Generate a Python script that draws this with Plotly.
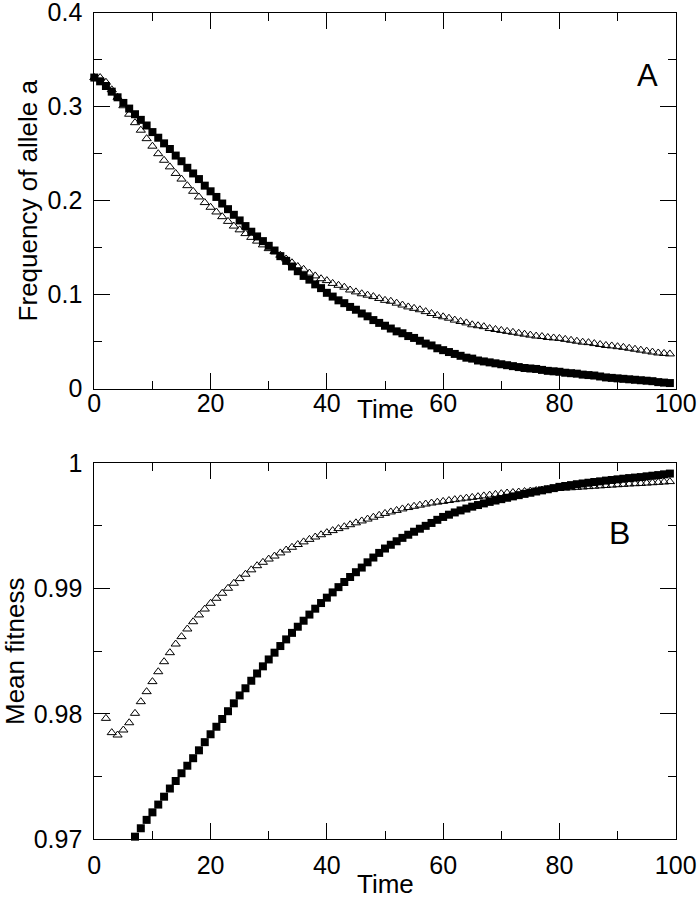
import plotly.graph_objects as go

# ---------------- data ----------------
time_a = list(range(0, 100))
freq_squares = [
    0.331, 0.327, 0.322, 0.316, 0.310, 0.304, 0.298, 0.292, 0.286, 0.280,
    0.273, 0.267, 0.261, 0.255, 0.248, 0.242, 0.235, 0.229, 0.223, 0.216,
    0.210, 0.204, 0.197, 0.191, 0.185, 0.179, 0.173, 0.167, 0.162, 0.157,
    0.152, 0.147, 0.141, 0.136, 0.130, 0.125, 0.120, 0.116, 0.111, 0.107,
    0.102, 0.098, 0.094, 0.091, 0.087, 0.084, 0.080, 0.077, 0.073, 0.070,
    0.067, 0.064, 0.061, 0.059, 0.056, 0.054, 0.051, 0.048, 0.046, 0.043,
    0.041, 0.039, 0.037, 0.035, 0.033, 0.032, 0.030, 0.029, 0.028, 0.027,
    0.026, 0.025, 0.024, 0.023, 0.022, 0.0215, 0.021, 0.020, 0.019, 0.0185,
    0.018, 0.017, 0.0165, 0.016, 0.015, 0.0145, 0.014, 0.013, 0.012, 0.0115,
    0.011, 0.0105, 0.010, 0.0095, 0.009, 0.0085, 0.008, 0.007, 0.0065, 0.006,
]
freq_triangles = [
    0.331, 0.331, 0.326, 0.318, 0.310, 0.301, 0.292, 0.283, 0.275, 0.266,
    0.258, 0.250, 0.243, 0.236, 0.229, 0.223, 0.216, 0.210, 0.204, 0.198,
    0.193, 0.188, 0.183, 0.178, 0.173, 0.169, 0.165, 0.161, 0.157, 0.153,
    0.149, 0.146, 0.142, 0.138, 0.134, 0.130, 0.127, 0.123, 0.120, 0.117,
    0.115, 0.112, 0.110, 0.108, 0.105, 0.103, 0.101, 0.0995, 0.098, 0.096,
    0.094, 0.093, 0.091, 0.089, 0.087, 0.0855, 0.084, 0.082, 0.080, 0.078,
    0.0765, 0.075, 0.073, 0.0715, 0.070, 0.068, 0.067, 0.066, 0.064, 0.063,
    0.062, 0.061, 0.060, 0.059, 0.058, 0.057, 0.056, 0.0555, 0.0545, 0.054,
    0.0535, 0.0525, 0.0515, 0.0505, 0.0495, 0.049, 0.048, 0.047, 0.046, 0.0455,
    0.0447, 0.044, 0.043, 0.042, 0.041, 0.040, 0.039, 0.038, 0.0375, 0.037,
]

time_b_squares = list(range(7, 100))
fitness_squares = [
    0.97021, 0.97088, 0.97155,
    0.97215, 0.97277, 0.97340, 0.97405, 0.97465, 0.97527, 0.97587, 0.97647, 0.97710, 0.97775,
    0.97838, 0.97898, 0.97960, 0.98022, 0.98085, 0.98148, 0.98205, 0.98265, 0.98323, 0.98380,
    0.98435, 0.98489, 0.98542, 0.98595, 0.98647, 0.98696, 0.98744, 0.98793, 0.98840, 0.98885,
    0.98928, 0.98970, 0.99012, 0.99053, 0.99093, 0.99131, 0.99168, 0.99210, 0.99248, 0.99285,
    0.99320, 0.99350, 0.99378, 0.99405, 0.99430, 0.99454, 0.99478, 0.99501, 0.99524, 0.99549,
    0.99572, 0.99590, 0.99608, 0.99624, 0.99639, 0.99654, 0.99667, 0.99680, 0.99692, 0.99703,
    0.99714, 0.99725, 0.99736, 0.99746, 0.99756, 0.99765, 0.99775, 0.99784, 0.99793, 0.99802,
    0.99812, 0.99819, 0.99826, 0.99833, 0.99839, 0.99845, 0.99851, 0.99856, 0.99862, 0.99867,
    0.99872, 0.99877, 0.99882, 0.99886, 0.99890, 0.99896, 0.99901, 0.99906, 0.99912, 0.99918,
]
time_b_triangles = list(range(2, 100))
fitness_triangles = [
    0.97965, 0.97851, 0.97832, 0.97872, 0.97930, 0.98005, 0.98098, 0.98178,
    0.98258, 0.98337, 0.98417, 0.98489, 0.98558, 0.98617, 0.98678, 0.98736, 0.98790, 0.98837,
    0.98883, 0.98923, 0.98963, 0.99003, 0.99043, 0.99080, 0.99115, 0.99150, 0.99183, 0.99210,
    0.99236, 0.99260, 0.99285, 0.99308, 0.99330, 0.99352, 0.99373, 0.99393, 0.99412, 0.99430,
    0.99447, 0.99463, 0.99479, 0.99494, 0.99510, 0.99525, 0.99540, 0.99555, 0.99570, 0.99585,
    0.99600, 0.99612, 0.99624, 0.99636, 0.99647, 0.99657, 0.99666, 0.99675, 0.99683, 0.99690,
    0.99696, 0.99703, 0.99710, 0.99716, 0.99722, 0.99728, 0.99734, 0.99740, 0.99746, 0.99752,
    0.99758, 0.99763, 0.99767, 0.99771, 0.99775, 0.99779, 0.99783, 0.99787, 0.99791, 0.99795,
    0.99799, 0.99802, 0.99805, 0.99808, 0.99811, 0.99814, 0.99817, 0.99820, 0.99823, 0.99826,
    0.99829, 0.99832, 0.99835, 0.99837, 0.99839, 0.99842, 0.99845, 0.99848, 0.99851, 0.99854,
]

x_ticks = [0, 20, 40, 60, 80, 100]
x_labels = ["0", "20", "40", "60", "80", "100"]
ya_ticks = [0, 0.1, 0.2, 0.3, 0.4]
ya_labels = ["0", "0.1", "0.2", "0.3", "0.4"]
yb_ticks = [0.97, 0.98, 0.99, 1.0]
yb_labels = ["0.97", "0.98", "0.99", "1"]

# ---------------- figure ----------------
FONT = "Liberation Sans, Arial, Helvetica, sans-serif"
TICK_SIZE = 25
TITLE_SIZE = 26
fig = go.Figure()

sq = dict(symbol="square", size=8, color="black", line=dict(width=0))
tri = dict(symbol="triangle-up-open", size=8, color="black", line=dict(width=1, color="black"))

fig.add_trace(go.Scatter(x=time_a, y=freq_squares, mode="markers", marker=sq,
                         xaxis="x", yaxis="y", cliponaxis=False, showlegend=False))
fig.add_trace(go.Scatter(x=time_a, y=freq_triangles, mode="markers", marker=tri,
                         xaxis="x", yaxis="y", cliponaxis=False, showlegend=False))
fig.add_trace(go.Scatter(x=time_b_squares, y=fitness_squares, mode="markers", marker=sq,
                         xaxis="x2", yaxis="y2", cliponaxis=False, showlegend=False))
fig.add_trace(go.Scatter(x=time_b_triangles, y=fitness_triangles, mode="markers", marker=tri,
                         xaxis="x2", yaxis="y2", cliponaxis=False, showlegend=False))

W, H = 699, 900
xdom = [94.3 / W, 675.7 / W]
ydom_a = [1 - 388.7 / H, 1 - 12.7 / H]
ydom_b = [1 - 839.3 / H, 1 - 463.3 / H]
EPS = 1e-7


def make_xaxis(anchor, standoff):
    return dict(domain=xdom, anchor=anchor, range=[0 - EPS, 100 + EPS],
                tickvals=x_ticks, ticktext=x_labels,
                ticks="inside", ticklen=16, tickwidth=1, tickcolor="black",
                minor=dict(dtick=10, tick0=0, ticks="inside", ticklen=8,
                           tickcolor="black", tickwidth=1),
                showline=True, linecolor="black", linewidth=1, mirror="allticks",
                showgrid=False, zeroline=False, automargin=False,
                ticklabelstandoff=standoff, ticklabeloverflow="allow",
                tickfont=dict(family=FONT, size=TICK_SIZE, color="black"))


def make_yaxis(anchor, dom, rng, tv, tt, minor_dt, title, title_standoff):
    return dict(domain=dom, anchor=anchor, range=[rng[0] - EPS * rng[1], rng[1] + EPS * rng[1]],
                tickvals=tv, ticktext=tt,
                ticks="inside", ticklen=16, tickwidth=1, tickcolor="black",
                minor=dict(dtick=minor_dt, tick0=rng[0], ticks="inside", ticklen=8,
                           tickcolor="black", tickwidth=1),
                showline=True, linecolor="black", linewidth=1, mirror="allticks",
                showgrid=False, zeroline=False, automargin=False,
                ticklabelstandoff=6, ticklabeloverflow="allow",
                tickfont=dict(family=FONT, size=TICK_SIZE, color="black"),
                title=dict(text=title, font=dict(family=FONT, size=TITLE_SIZE, color="black"),
                           standoff=title_standoff))


fig.update_layout(
    width=W, height=H,
    margin=dict(l=0, r=0, t=0, b=0),
    paper_bgcolor="white", plot_bgcolor="white",
    xaxis=make_xaxis("y", -8),
    yaxis=make_yaxis("x", ydom_a, [0, 0.4], ya_ticks, ya_labels, 0.05, "Frequency of allele a", 2),
    xaxis2=make_xaxis("y2", 4),
    yaxis2=make_yaxis("x2", ydom_b, [0.97, 1.0], yb_ticks, yb_labels, 0.005, "Mean fitness", 8),
    font=dict(family=FONT, color="black"),
    annotations=[
        dict(text="Time", x=0.5, y=1 - 409 / H, xref="x domain", yref="paper",
             xanchor="center", yanchor="middle",
             showarrow=False, font=dict(family=FONT, size=TITLE_SIZE, color="black")),
        dict(text="Time", x=0.5, y=1 - 884 / H, xref="x2 domain", yref="paper",
             xanchor="center", yanchor="middle",
             showarrow=False, font=dict(family=FONT, size=TITLE_SIZE, color="black")),
        dict(text="A", x=0.952, y=0.834, xref="x domain", yref="y domain", showarrow=False,
             xanchor="center", yanchor="middle",
             font=dict(family=FONT, size=31, color="black")),
        dict(text="B", x=0.904, y=0.815, xref="x2 domain", yref="y2 domain", showarrow=False,
             xanchor="center", yanchor="middle",
             font=dict(family=FONT, size=32, color="black")),
    ],
)

fig.write_html(
    "out.html",
    config={"displayModeBar": False},
    post_script="document.body.style.margin='0px';document.body.style.overflow='hidden';",
)
